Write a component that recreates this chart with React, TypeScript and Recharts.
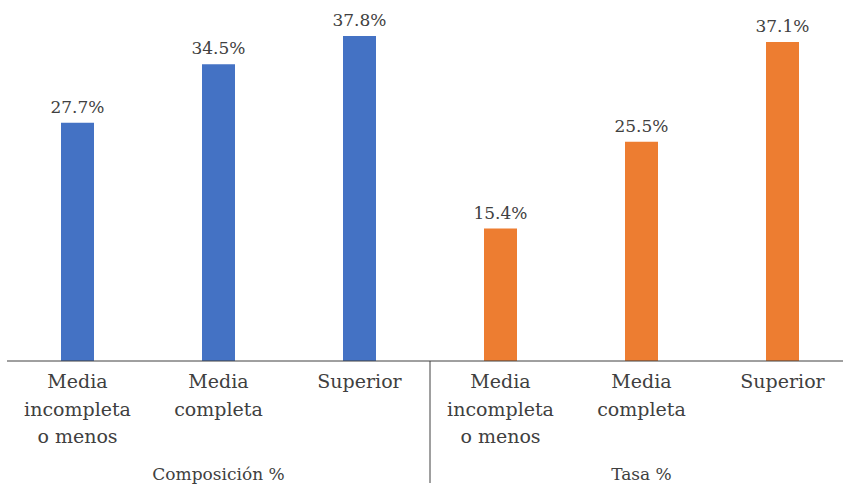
import { BarChart, Bar, XAxis, YAxis, Cell, LabelList } from 'recharts';

const categories = [
    'Media incompleta o menos',
    'Media completa',
    'Superior',
    'Media incompleta o menos',
    'Media completa',
    'Superior',
];
const tickLines = [
    ['Media', 'incompleta', 'o menos'],
    ['Media', 'completa'],
    ['Superior'],
    ['Media', 'incompleta', 'o menos'],
    ['Media', 'completa'],
    ['Superior'],
];
const groups = ['Composición %', 'Composición %', 'Composición %', 'Tasa %', 'Tasa %', 'Tasa %'];
const values = [27.7, 34.5, 37.8, 15.4, 25.5, 37.1];
const colors = ['#4472C4', '#4472C4', '#4472C4', '#ED7D31', '#ED7D31', '#ED7D31'];

const data = categories.map((name, i) => ({
    key: `${i}`,
    name,
    group: groups[i],
    value: values[i],
}));

const FONT = "'DejaVu Serif', 'Liberation Serif', serif";
const TEXT = '#404040';

// multi-line category tick, plus the group label and the group divider
const CategoryTick = (props: any) => {
    const { x, y, payload, index } = props;
    const lines = tickLines[index] || [];
    const half = payload && payload.offset ? payload.offset : 70.5;
    const groupLabel = index === 1 || index === 4 ? groups[index] : null;
    return (
        <g>
            {lines.map((line, i) => (
                <text
                    key={i}
                    x={x}
                    y={y + 19 + i * 27.5}
                    textAnchor="middle"
                    style={{ fontFamily: FONT, fontSize: 19, fill: TEXT }}
                >
                    {line}
                </text>
            ))}
            {groupLabel && (
                <text
                    x={x}
                    y={y + 111}
                    textAnchor="middle"
                    style={{ fontFamily: FONT, fontSize: 17, fill: TEXT }}
                >
                    {groupLabel}
                </text>
            )}
            {index === 2 && (
                <line
                    x1={x + half}
                    x2={x + half}
                    y1={y - 8}
                    y2={y + 114}
                    stroke={TEXT}
                    strokeWidth={1}
                />
            )}
        </g>
    );
};

export default function App() {
    return (
        <div
            style={{
                position: 'absolute',
                left: 0,
                top: 0,
                width: 843,
                height: 485,
                overflow: 'hidden',
                background: '#fff',
                fontFamily: FONT,
            }}
        >
            <BarChart
                width={853}
                height={485}
                data={data}
                margin={{ top: 17, right: 0, bottom: 0, left: 7 }}
            >
                <XAxis
                    dataKey="key"
                    height={124}
                    tickLine={false}
                    axisLine={{ stroke: TEXT, strokeWidth: 1 }}
                    tick={<CategoryTick />}
                    interval={0}
                />
                <YAxis hide domain={[0, 40]} />
                <Bar dataKey="value" barSize={33} isAnimationActive={false}>
                    {data.map((d, i) => (
                        <Cell key={d.key} fill={colors[i]} />
                    ))}
                    <LabelList
                        dataKey="value"
                        position="top"
                        offset={10}
                        formatter={(v: any) => `${Number(v).toFixed(1)}%`}
                        style={{ fontFamily: FONT, fontSize: 17, fill: TEXT }}
                    />
                </Bar>
            </BarChart>
        </div>
    );
}
